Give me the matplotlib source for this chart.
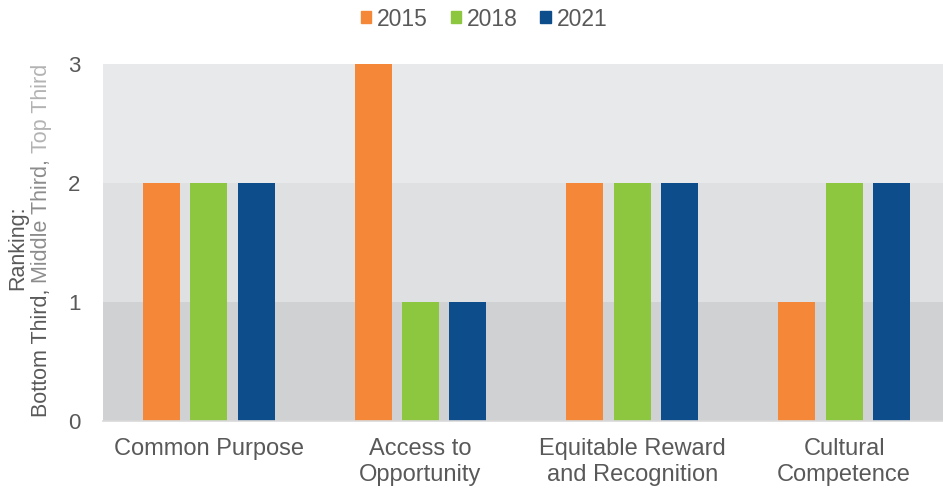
import numpy as np
import matplotlib.pyplot as plt
from matplotlib.patches import Patch

categories = ["Common Purpose", "Access to\nOpportunity", "Equitable Reward\nand Recognition", "Cultural\nCompetence"]
years = ["2015", "2018", "2021"]
v2015 = [2, 3, 2, 1]
v2018 = [2, 1, 2, 2]
v2021 = [2, 1, 2, 2]
colors = ["#F58838", "#8DC63F", "#0D4D8C"]
txt = "#595959"

plt.rcParams["font.family"] = ["Liberation Sans", "DejaVu Sans"]

fig = plt.figure(figsize=(9.43, 4.91), dpi=100)
ax = fig.add_axes([0.109, 0.1426, 0.891, 0.7271])

# background bands for thirds
ax.axhspan(0, 1, color="#D0D1D3", zorder=0, lw=0)
ax.axhspan(1, 2, color="#DFE0E2", zorder=0, lw=0)
ax.axhspan(2, 3, color="#E8E9EB", zorder=0, lw=0)

x = np.arange(len(categories))
w = 0.175
off = 0.224
for i, (vals, c) in enumerate(zip([v2015, v2018, v2021], colors)):
    ax.bar(x + (i - 1) * off, vals, w, color=c, zorder=2)

ax.set_xlim(-0.5, 3.467)
ax.set_ylim(0, 3)
ax.set_yticks([0, 1, 2, 3])
ax.set_xticks(x)
ax.set_xticklabels(categories, fontsize=17, color=txt, linespacing=1.28)
ax.tick_params(axis="y", labelsize=16, colors=txt, length=0, pad=16)
ax.tick_params(axis="x", length=0, pad=12)
for s in ["top", "right", "left"]:
    ax.spines[s].set_visible(False)
ax.spines["bottom"].set_color("#D9D9D9")
ax.spines["bottom"].set_linewidth(1.2)

handles = [Patch(color=c) for c in colors]
fig.legend(handles, years, loc="center", bbox_to_anchor=(484 / 943, 1 - 19 / 491), ncol=3,
           frameon=False, fontsize=16.5, handlelength=0.45, handleheight=0.45,
           handletextpad=0.25, columnspacing=1.0, labelcolor=txt)

# multi-coloured y label, built from pieces
fig.text(18 / 943, 1 - 248 / 491, "Ranking:", rotation=90, ha="center", va="center",
         fontsize=15.5, color=txt)
pieces = [("Bottom Third, ", txt), ("Middle Third, ", "#8C8C8C"), ("Top Third", "#B3B3B3")]
fig.canvas.draw()
r = fig.canvas.get_renderer()
ypix = 417
for s, c in pieces:
    t = fig.text(42 / 943, 1 - ypix / 491, s, rotation=90, ha="center", va="bottom",
                 fontsize=15.5, color=c)
    bb = t.get_window_extent(r)
    ypix -= bb.height

fig.savefig("out.png", dpi=100)
